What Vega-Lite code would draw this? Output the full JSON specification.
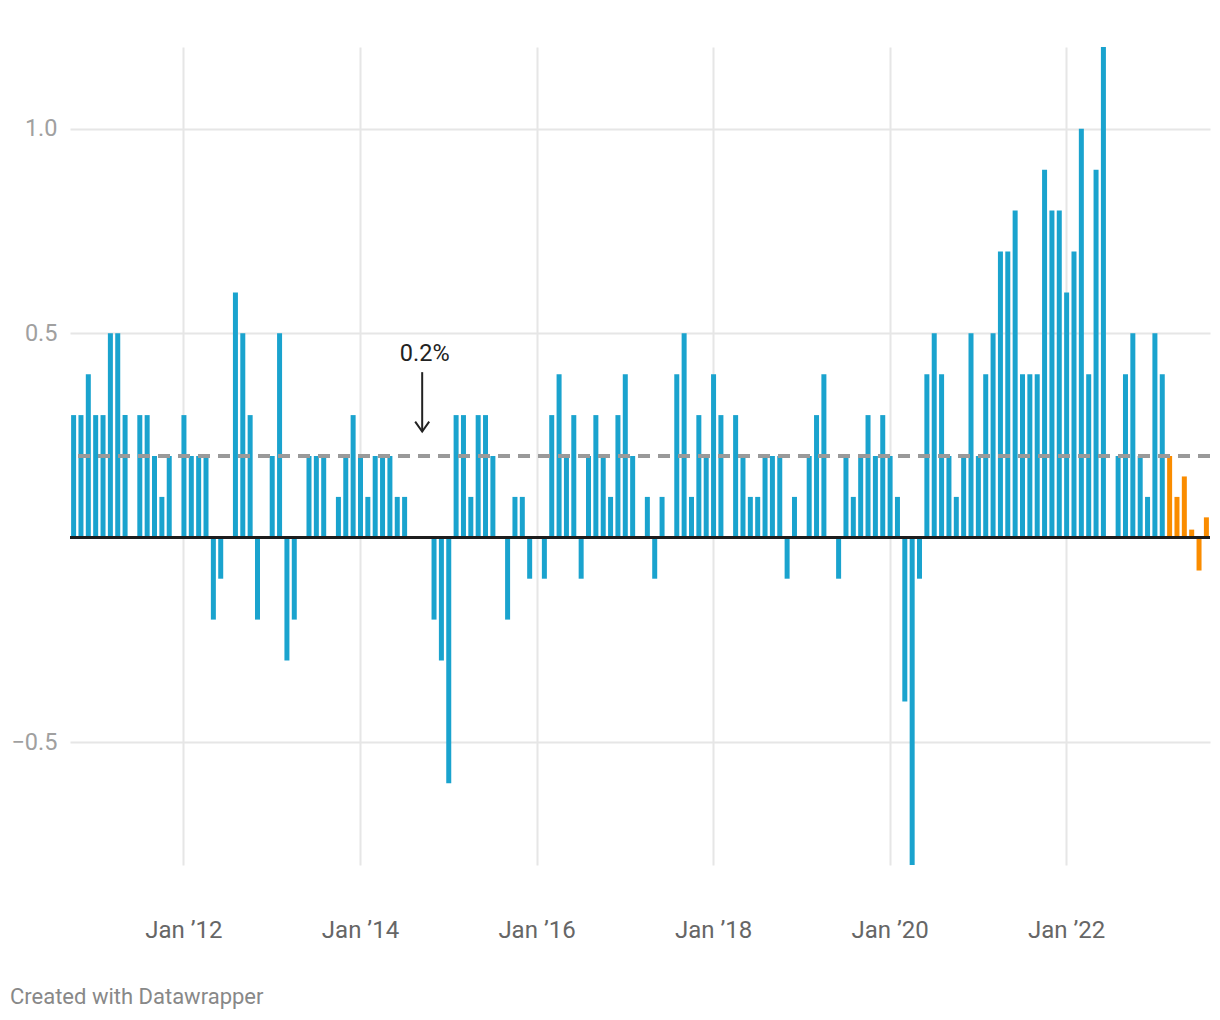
{
  "$schema": "https://vega.github.io/schema/vega-lite/v6.json",
  "width": 1140,
  "height": 818,
  "autosize": {"type": "none"},
  "padding": {"left": 70, "top": 47, "right": 10, "bottom": 155},
  "background": "white",
  "config": {"font": "Roboto", "view": {"stroke": null}},
  "title": {"text": "Created with Datawrapper", "orient": "bottom", "anchor": "start", "frame": "bounds", "fontSize": 22, "fontWeight": "normal", "color": "#888888", "font": "Roboto", "offset": 45, "dx": -1},
  "datasets": {
    "cpi": [
      {"month": "2010-10", "value": 0.3, "type": "actual"},
      {"month": "2010-11", "value": 0.3, "type": "actual"},
      {"month": "2010-12", "value": 0.4, "type": "actual"},
      {"month": "2011-01", "value": 0.3, "type": "actual"},
      {"month": "2011-02", "value": 0.3, "type": "actual"},
      {"month": "2011-03", "value": 0.5, "type": "actual"},
      {"month": "2011-04", "value": 0.5, "type": "actual"},
      {"month": "2011-05", "value": 0.3, "type": "actual"},
      {"month": "2011-06", "value": 0.0, "type": "actual"},
      {"month": "2011-07", "value": 0.3, "type": "actual"},
      {"month": "2011-08", "value": 0.3, "type": "actual"},
      {"month": "2011-09", "value": 0.2, "type": "actual"},
      {"month": "2011-10", "value": 0.1, "type": "actual"},
      {"month": "2011-11", "value": 0.2, "type": "actual"},
      {"month": "2011-12", "value": 0.0, "type": "actual"},
      {"month": "2012-01", "value": 0.3, "type": "actual"},
      {"month": "2012-02", "value": 0.2, "type": "actual"},
      {"month": "2012-03", "value": 0.2, "type": "actual"},
      {"month": "2012-04", "value": 0.2, "type": "actual"},
      {"month": "2012-05", "value": -0.2, "type": "actual"},
      {"month": "2012-06", "value": -0.1, "type": "actual"},
      {"month": "2012-07", "value": 0.0, "type": "actual"},
      {"month": "2012-08", "value": 0.6, "type": "actual"},
      {"month": "2012-09", "value": 0.5, "type": "actual"},
      {"month": "2012-10", "value": 0.3, "type": "actual"},
      {"month": "2012-11", "value": -0.2, "type": "actual"},
      {"month": "2012-12", "value": 0.0, "type": "actual"},
      {"month": "2013-01", "value": 0.2, "type": "actual"},
      {"month": "2013-02", "value": 0.5, "type": "actual"},
      {"month": "2013-03", "value": -0.3, "type": "actual"},
      {"month": "2013-04", "value": -0.2, "type": "actual"},
      {"month": "2013-05", "value": 0.0, "type": "actual"},
      {"month": "2013-06", "value": 0.2, "type": "actual"},
      {"month": "2013-07", "value": 0.2, "type": "actual"},
      {"month": "2013-08", "value": 0.2, "type": "actual"},
      {"month": "2013-09", "value": 0.0, "type": "actual"},
      {"month": "2013-10", "value": 0.1, "type": "actual"},
      {"month": "2013-11", "value": 0.2, "type": "actual"},
      {"month": "2013-12", "value": 0.3, "type": "actual"},
      {"month": "2014-01", "value": 0.2, "type": "actual"},
      {"month": "2014-02", "value": 0.1, "type": "actual"},
      {"month": "2014-03", "value": 0.2, "type": "actual"},
      {"month": "2014-04", "value": 0.2, "type": "actual"},
      {"month": "2014-05", "value": 0.2, "type": "actual"},
      {"month": "2014-06", "value": 0.1, "type": "actual"},
      {"month": "2014-07", "value": 0.1, "type": "actual"},
      {"month": "2014-08", "value": 0.0, "type": "actual"},
      {"month": "2014-09", "value": 0.0, "type": "actual"},
      {"month": "2014-10", "value": 0.0, "type": "actual"},
      {"month": "2014-11", "value": -0.2, "type": "actual"},
      {"month": "2014-12", "value": -0.3, "type": "actual"},
      {"month": "2015-01", "value": -0.6, "type": "actual"},
      {"month": "2015-02", "value": 0.3, "type": "actual"},
      {"month": "2015-03", "value": 0.3, "type": "actual"},
      {"month": "2015-04", "value": 0.1, "type": "actual"},
      {"month": "2015-05", "value": 0.3, "type": "actual"},
      {"month": "2015-06", "value": 0.3, "type": "actual"},
      {"month": "2015-07", "value": 0.2, "type": "actual"},
      {"month": "2015-08", "value": 0.0, "type": "actual"},
      {"month": "2015-09", "value": -0.2, "type": "actual"},
      {"month": "2015-10", "value": 0.1, "type": "actual"},
      {"month": "2015-11", "value": 0.1, "type": "actual"},
      {"month": "2015-12", "value": -0.1, "type": "actual"},
      {"month": "2016-01", "value": 0.0, "type": "actual"},
      {"month": "2016-02", "value": -0.1, "type": "actual"},
      {"month": "2016-03", "value": 0.3, "type": "actual"},
      {"month": "2016-04", "value": 0.4, "type": "actual"},
      {"month": "2016-05", "value": 0.2, "type": "actual"},
      {"month": "2016-06", "value": 0.3, "type": "actual"},
      {"month": "2016-07", "value": -0.1, "type": "actual"},
      {"month": "2016-08", "value": 0.2, "type": "actual"},
      {"month": "2016-09", "value": 0.3, "type": "actual"},
      {"month": "2016-10", "value": 0.2, "type": "actual"},
      {"month": "2016-11", "value": 0.1, "type": "actual"},
      {"month": "2016-12", "value": 0.3, "type": "actual"},
      {"month": "2017-01", "value": 0.4, "type": "actual"},
      {"month": "2017-02", "value": 0.2, "type": "actual"},
      {"month": "2017-03", "value": 0.0, "type": "actual"},
      {"month": "2017-04", "value": 0.1, "type": "actual"},
      {"month": "2017-05", "value": -0.1, "type": "actual"},
      {"month": "2017-06", "value": 0.1, "type": "actual"},
      {"month": "2017-07", "value": 0.0, "type": "actual"},
      {"month": "2017-08", "value": 0.4, "type": "actual"},
      {"month": "2017-09", "value": 0.5, "type": "actual"},
      {"month": "2017-10", "value": 0.1, "type": "actual"},
      {"month": "2017-11", "value": 0.3, "type": "actual"},
      {"month": "2017-12", "value": 0.2, "type": "actual"},
      {"month": "2018-01", "value": 0.4, "type": "actual"},
      {"month": "2018-02", "value": 0.3, "type": "actual"},
      {"month": "2018-03", "value": 0.0, "type": "actual"},
      {"month": "2018-04", "value": 0.3, "type": "actual"},
      {"month": "2018-05", "value": 0.2, "type": "actual"},
      {"month": "2018-06", "value": 0.1, "type": "actual"},
      {"month": "2018-07", "value": 0.1, "type": "actual"},
      {"month": "2018-08", "value": 0.2, "type": "actual"},
      {"month": "2018-09", "value": 0.2, "type": "actual"},
      {"month": "2018-10", "value": 0.2, "type": "actual"},
      {"month": "2018-11", "value": -0.1, "type": "actual"},
      {"month": "2018-12", "value": 0.1, "type": "actual"},
      {"month": "2019-01", "value": 0.0, "type": "actual"},
      {"month": "2019-02", "value": 0.2, "type": "actual"},
      {"month": "2019-03", "value": 0.3, "type": "actual"},
      {"month": "2019-04", "value": 0.4, "type": "actual"},
      {"month": "2019-05", "value": 0.0, "type": "actual"},
      {"month": "2019-06", "value": -0.1, "type": "actual"},
      {"month": "2019-07", "value": 0.2, "type": "actual"},
      {"month": "2019-08", "value": 0.1, "type": "actual"},
      {"month": "2019-09", "value": 0.2, "type": "actual"},
      {"month": "2019-10", "value": 0.3, "type": "actual"},
      {"month": "2019-11", "value": 0.2, "type": "actual"},
      {"month": "2019-12", "value": 0.3, "type": "actual"},
      {"month": "2020-01", "value": 0.2, "type": "actual"},
      {"month": "2020-02", "value": 0.1, "type": "actual"},
      {"month": "2020-03", "value": -0.4, "type": "actual"},
      {"month": "2020-04", "value": -0.8, "type": "actual"},
      {"month": "2020-05", "value": -0.1, "type": "actual"},
      {"month": "2020-06", "value": 0.4, "type": "actual"},
      {"month": "2020-07", "value": 0.5, "type": "actual"},
      {"month": "2020-08", "value": 0.4, "type": "actual"},
      {"month": "2020-09", "value": 0.2, "type": "actual"},
      {"month": "2020-10", "value": 0.1, "type": "actual"},
      {"month": "2020-11", "value": 0.2, "type": "actual"},
      {"month": "2020-12", "value": 0.5, "type": "actual"},
      {"month": "2021-01", "value": 0.2, "type": "actual"},
      {"month": "2021-02", "value": 0.4, "type": "actual"},
      {"month": "2021-03", "value": 0.5, "type": "actual"},
      {"month": "2021-04", "value": 0.7, "type": "actual"},
      {"month": "2021-05", "value": 0.7, "type": "actual"},
      {"month": "2021-06", "value": 0.8, "type": "actual"},
      {"month": "2021-07", "value": 0.4, "type": "actual"},
      {"month": "2021-08", "value": 0.4, "type": "actual"},
      {"month": "2021-09", "value": 0.4, "type": "actual"},
      {"month": "2021-10", "value": 0.9, "type": "actual"},
      {"month": "2021-11", "value": 0.8, "type": "actual"},
      {"month": "2021-12", "value": 0.8, "type": "actual"},
      {"month": "2022-01", "value": 0.6, "type": "actual"},
      {"month": "2022-02", "value": 0.7, "type": "actual"},
      {"month": "2022-03", "value": 1.0, "type": "actual"},
      {"month": "2022-04", "value": 0.4, "type": "actual"},
      {"month": "2022-05", "value": 0.9, "type": "actual"},
      {"month": "2022-06", "value": 1.2, "type": "actual"},
      {"month": "2022-07", "value": 0.0, "type": "actual"},
      {"month": "2022-08", "value": 0.2, "type": "actual"},
      {"month": "2022-09", "value": 0.4, "type": "actual"},
      {"month": "2022-10", "value": 0.5, "type": "actual"},
      {"month": "2022-11", "value": 0.2, "type": "actual"},
      {"month": "2022-12", "value": 0.1, "type": "actual"},
      {"month": "2023-01", "value": 0.5, "type": "actual"},
      {"month": "2023-02", "value": 0.4, "type": "actual"},
      {"month": "2023-03", "value": 0.2, "type": "forecast"},
      {"month": "2023-04", "value": 0.1, "type": "forecast"},
      {"month": "2023-05", "value": 0.15, "type": "forecast"},
      {"month": "2023-06", "value": 0.02, "type": "forecast"},
      {"month": "2023-07", "value": -0.08, "type": "forecast"},
      {"month": "2023-08", "value": 0.05, "type": "forecast"}
    ],
    "note": [
      {"month": "2014-10", "label": "0.2%", "textValue": 0.45, "arrowTop": 0.405, "arrowTip": 0.26}
    ]
  },
  "layer": [
    {
      "data": {"name": "cpi"},
      "mark": {"type": "bar"},
      "encoding": {
        "x": {
          "field": "month", "type": "ordinal",
          "scale": {"paddingInner": 0.32, "paddingOuter": 0.15},
          "axis": {
            "values": ["2012-01", "2014-01", "2016-01", "2018-01", "2020-01", "2022-01"],
            "labelExpr": "'Jan \u2019' + slice(datum.value, 2, 4)",
            "title": null, "domain": false, "ticks": false, "tickSize": 0,
            "grid": true, "gridColor": "#e6e6e6", "gridWidth": 2, "bandPosition": 0.5,
            "labelFont": "Roboto", "labelFontSize": 24, "labelColor": "#666666",
            "labelPadding": 53, "labelAngle": 0
          }
        },
        "y": {
          "field": "value", "type": "quantitative",
          "scale": {"domain": [-0.8, 1.2], "nice": false, "zero": true},
          "axis": {
            "values": [-0.5, 0.5, 1],
            "labelExpr": "datum.value < 0 ? '\u2212' + format(-datum.value, '.1f') : format(datum.value, '.1f')",
            "title": null, "domain": false, "ticks": false, "tickSize": 0,
            "grid": true, "gridColor": "#e6e6e6", "gridWidth": 2,
            "labelFont": "Roboto", "labelFontSize": 23.5, "labelColor": "#a0a0a0",
            "labelPadding": 13
          }
        },
        "color": {
          "field": "type", "type": "nominal",
          "scale": {"domain": ["actual", "forecast"], "range": ["#1aa3ce", "#fa8c00"]},
          "legend": null
        }
      }
    },
    {
      "data": {"name": "cpi"},
      "mark": {"type": "rule", "color": "#1d1d1d", "strokeWidth": 2},
      "encoding": {"y": {"datum": 0}}
    },
    {
      "data": {"name": "cpi"},
      "mark": {"type": "rule", "color": "#9a9a9a", "opacity": 0.8, "strokeDash": [12, 8], "strokeWidth": 3.5},
      "encoding": {"y": {"datum": 0.2}}
    },
    {
      "data": {"name": "note"},
      "mark": {"type": "text", "font": "Roboto", "fontSize": 23.5, "color": "#222222", "baseline": "middle", "align": "center", "xOffset": -2},
      "encoding": {
        "x": {"field": "month", "type": "ordinal"},
        "y": {"field": "textValue", "type": "quantitative"},
        "text": {"field": "label"}
      }
    },
    {
      "data": {"name": "note"},
      "mark": {"type": "rule", "color": "#222222", "strokeWidth": 2, "xOffset": -4.5},
      "encoding": {
        "x": {"field": "month", "type": "ordinal"},
        "y": {"field": "arrowTop", "type": "quantitative"},
        "y2": {"field": "arrowTip"}
      }
    },
    {
      "data": {"name": "note"},
      "mark": {"type": "point", "shape": "M-1,-1.4L0,0L1,-1.4", "filled": false, "stroke": "#222222", "strokeWidth": 2, "size": 196, "opacity": 1, "xOffset": -4.5},
      "encoding": {
        "x": {"field": "month", "type": "ordinal"},
        "y": {"field": "arrowTip", "type": "quantitative"}
      }
    }
  ]
}
